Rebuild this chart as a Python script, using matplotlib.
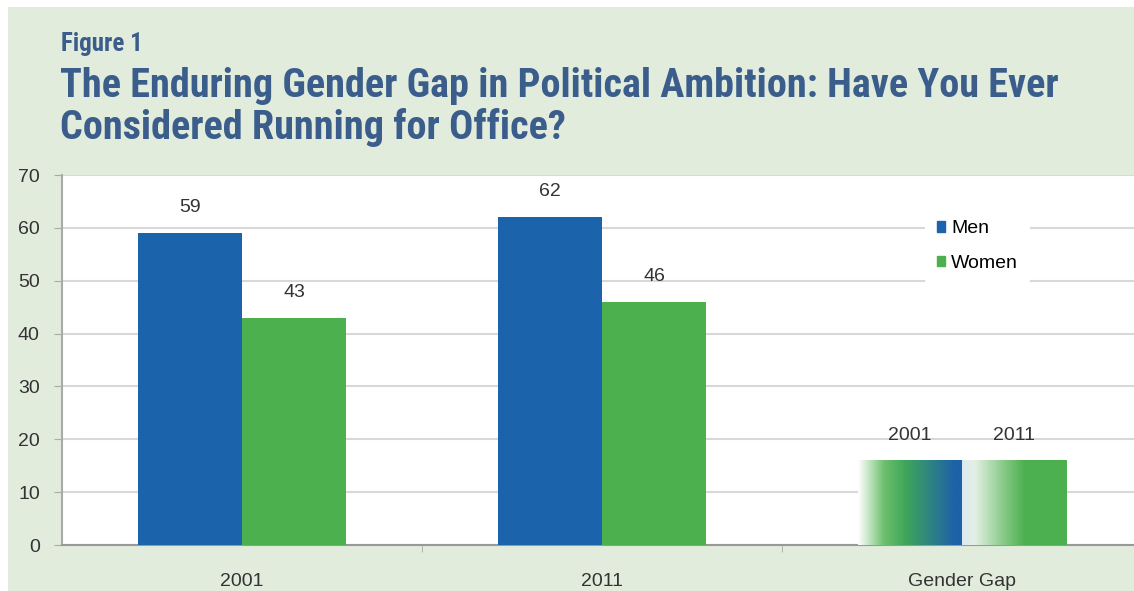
import numpy as np
import matplotlib.pyplot as plt
from matplotlib.colors import LinearSegmentedColormap
from matplotlib.patches import Rectangle, Patch

# data
categories = ['2001', '2011', 'Gender Gap']
men = [59, 62]
women = [43, 46]
gap_labels = ['2001', '2011']
gap_values = [16, 16]

MEN_C = '#1b63ab'
WOMEN_C = '#4cb04f'
BG = '#e2ecdc'
TITLE_C = '#3a5d8c'
TEXT_C = '#333333'

plt.rcParams['font.family'] = ['Liberation Sans', 'DejaVu Sans']

W, H = 1134, 591
fig = plt.figure(figsize=(W / 100, H / 100), dpi=100)
fig.patch.set_facecolor(BG)

# white strip on top and left edges
fig.patches.append(Rectangle((0, 1 - 7 / H), 1, 7 / H, transform=fig.transFigure,
                             facecolor='white', edgecolor='none', zorder=0))
fig.patches.append(Rectangle((0, 0), 8 / W, 1, transform=fig.transFigure,
                             facecolor='white', edgecolor='none', zorder=0))

title_font = ['Roboto Condensed', 'Archivo Narrow', 'Liberation Sans Narrow', 'DejaVu Sans']
fig.text(61 / W, 1 - 51 / H, 'Figure 1', fontsize=18, fontweight='bold',
         color=TITLE_C, family=title_font, va='baseline', ha='left')
fig.text(60 / W, 1 - 97 / H,
         'The Enduring Gender Gap in Political Ambition: Have You Ever',
         fontsize=29, fontweight='bold', color=TITLE_C, family=title_font,
         va='baseline', ha='left')
fig.text(60 / W, 1 - 139 / H, 'Considered Running for Office?',
         fontsize=29, fontweight='bold', color=TITLE_C, family=title_font,
         va='baseline', ha='left')

ax = fig.add_axes([62 / W, (H - 545) / H, (1142 - 62) / W, (545 - 175) / H])
ax.set_facecolor('white')

x = np.arange(len(men))
bw = 0.29
ax.bar(x - bw / 2, men, bw, color=MEN_C, zorder=3, label='Men')
ax.bar(x + bw / 2, women, bw, color=WOMEN_C, zorder=3, label='Women')

for i in range(len(men)):
    ax.text(x[i] - bw / 2, men[i] + 3.2, str(men[i]), ha='center', va='bottom',
            fontsize=14, color=TEXT_C)
    ax.text(x[i] + bw / 2, women[i] + 3.2, str(women[i]), ha='center', va='bottom',
            fontsize=14, color=TEXT_C)

# gender gap bars with gradient fill
cmaps = [
    LinearSegmentedColormap.from_list('g1', [(0, '#ffffff'), (0.25, '#6cbf6c'),
                                             (0.45, '#3fa65a'), (0.92, '#1d62a8'),
                                             (1, '#1d62a8')]),
    LinearSegmentedColormap.from_list('g2', [(0, '#dde9f1'), (0.12, '#e4f0e4'),
                                             (0.4, '#86c986'), (0.6, '#4cb04f'),
                                             (1, '#4cb04f')]),
]
grad = np.linspace(0, 1, 256).reshape(1, -1)
gx = len(men)
for j, v in enumerate(gap_values):
    left = gx - bw + j * bw
    ax.imshow(grad, extent=[left, left + bw, 0, v], aspect='auto',
              cmap=cmaps[j], zorder=3, interpolation='bilinear')
    ax.text(left + bw / 2, v + 3.2, gap_labels[j], ha='center', va='bottom',
            fontsize=14, color=TEXT_C)

ax.set_xlim(-0.5, 2.5)
ax.set_ylim(0, 70)
ax.set_yticks(range(0, 71, 10))
ax.set_xticks(range(len(categories)))
ax.set_xticklabels(categories)
ax.set_xticks([0.5, 1.5], minor=True)
ax.tick_params(axis='x', which='major', length=0, pad=20, labelsize=14,
               labelcolor=TEXT_C)
ax.tick_params(axis='x', which='minor', length=5, color='#aaaaaa')
ax.tick_params(axis='y', length=6, color='#aaaaaa', labelsize=14,
               labelcolor=TEXT_C, pad=10)

ax.grid(axis='y', color='#d8d8d8', linewidth=1.5, zorder=0)
ax.set_axisbelow(True)
for s in ['top', 'right']:
    ax.spines[s].set_visible(False)
ax.spines['left'].set_color('#aaaaaa')
ax.spines['bottom'].set_color('#999999')
ax.spines['left'].set_linewidth(1.5)
ax.spines['bottom'].set_linewidth(1.5)

handles = [Patch(color=MEN_C), Patch(color=WOMEN_C)]
leg = ax.legend(handles, ['Men', 'Women'], loc='upper left',
                bbox_to_anchor=(0.79, 0.935), frameon=True, fontsize=14,
                handlelength=0.45, handleheight=0.45, handletextpad=0.3,
                labelspacing=0.9, borderpad=0.6)
leg.get_frame().set_facecolor('white')
leg.get_frame().set_edgecolor('none')
leg.get_frame().set_alpha(1)

fig.savefig('out.png', dpi=100, facecolor=fig.get_facecolor())
